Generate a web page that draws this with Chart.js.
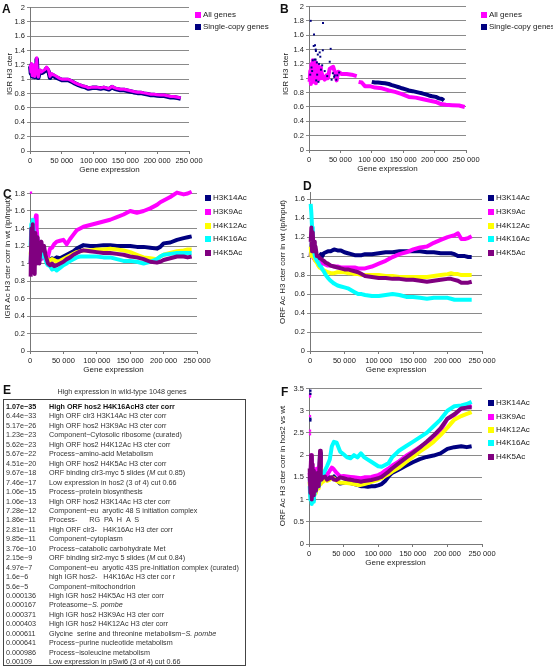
<!DOCTYPE html>
<html>
<head>
<meta charset="utf-8">
<script src="https://cdn.jsdelivr.net/npm/chart.js@4.4.1/dist/chart.umd.min.js"></script>
<style>
  body { margin: 0; background: #fff; font-family: "Liberation Sans", Arial, sans-serif; color: #222; }
  #page { position: relative; width: 553px; height: 668px; overflow: hidden; will-change: transform; -webkit-font-smoothing: antialiased; }
  .panel { position: absolute; }
  .letter { position: absolute; font-weight: bold; font-size: 12px; line-height: 12px; color: #111; }
  .ytitle { position: absolute; font-size: 8px; white-space: nowrap; transform: translate(-50%, -50%) rotate(-90deg); }
  .sw { position: absolute; width: 6px; height: 6px; }
  .lt { position: absolute; font-size: 8px; line-height: 10px; white-space: nowrap; }
  .row { position: absolute; left: 0; height: 9.45px; line-height: 9.45px; font-size: 7.2px; white-space: nowrap; color: #333; }
  .row .p { position: absolute; left: 2px; }
  .row .t { position: absolute; left: 45px; }
</style>
</head>
<body>
<div id="page"></div>
<script>
// ---- Panel A: IGR H3 cter, all genes vs single-copy genes
const aX = [500, 1500, 2500, 3500, 4500, 5500, 6500, 7500, 8500, 9500,
  10500, 11500, 13000, 14500, 16000, 18000, 21000, 24000, 26000, 28000,
  29500, 31500, 34000, 37000, 40000, 45000, 50000, 55000, 60000, 65000,
  71000, 76000, 82000, 87000, 92000, 98000, 105000, 111000, 116000, 120000,
  124000, 129000, 133000, 137000, 142000, 148000, 153000, 158000, 163000, 169000,
  174000, 179000, 185000, 190000, 195000, 200000, 205000, 211000, 216000, 221000,
  226000, 232000, 237000]
const aAll = [1.2, 1.1, 1.22, 1.05, 1.18, 1.08, 1.2, 1.04, 1.15, 1.22,
  1.3, 1.12, 1.03, 1.1, 1.13, 1.1, 1.12, 1.14, 1.17, 1.15,
  1.12, 1.04, 1.08, 1.06, 1.05, 1.02, 1.0, 1.0, 1.0, 0.98,
  0.95, 0.93, 0.91, 0.9, 0.88, 0.89, 0.89, 0.88, 0.89, 0.88,
  0.87, 0.9, 0.88, 0.87, 0.86, 0.86, 0.85, 0.84, 0.83, 0.82,
  0.82, 0.81, 0.8, 0.79, 0.79, 0.785, 0.78, 0.78, 0.77, 0.76,
  0.76, 0.75, 0.74]
const aSingle = [1.18, 1.08, 1.2, 1.04, 1.16, 1.06, 1.18, 1.03, 1.13, 1.2,
  1.28, 1.1, 1.02, 1.08, 1.11, 1.09, 1.1, 1.12, 1.15, 1.13,
  1.1, 1.02, 1.06, 1.05, 1.03, 1.01, 0.99, 0.99, 0.99, 0.97,
  0.94, 0.92, 0.9, 0.89, 0.87, 0.88, 0.88, 0.87, 0.88, 0.87,
  0.86, 0.89, 0.87, 0.86, 0.85, 0.85, 0.84, 0.83, 0.82, 0.81,
  0.81, 0.8, 0.79, 0.78, 0.78, 0.775, 0.77, 0.77, 0.76, 0.75,
  0.75, 0.74, 0.73]

// ---- Panel B: IGR H3 cter (other set)
const bAllX = [1000, 2000, 3000, 4000, 5000, 6000, 7000, 8000, 9000, 10000,
  11000, 12000, 13000, 14000, 15000, 16000, 17000, 18000, 19000, 20000,
  22000, 25000, 28000, 30000, 33000, 36000, 38500, 41000, 44000, 46500,
  52000, 60000, 68000, 76000, 77500, 79000, 84000, 89000, 97000, 105000,
  116000, 127000, 137000, 148000, 159000, 170000, 180000, 191000, 202000, 210000,
  218000, 228000, 239000, 248000]
const bAll = [0.95, 1.1, 0.92, 1.2, 1.0, 1.25, 0.95, 1.15, 1.05, 1.22,
  0.93, 1.12, 1.0, 1.18, 0.98, 1.1, 1.05, 1.15, 1.0, 1.08,
  1.02, 0.98, 1.04, 1.0, 1.13, 1.15, 1.16, 1.09, 0.97, 1.09,
  1.06, 1.06, 1.05, 1.03, null, 0.95, 0.94, 0.89, 0.89, 0.87,
  0.86, 0.83, 0.81, 0.78, 0.74, 0.73, 0.71, 0.69, 0.67, 0.64,
  0.63, 0.625, 0.62, 0.6]
const bSingleDotX = [2700, 22300, 8000, 7500, 9600, 10700, 11000, 14000, 17000, 22000,
  34500, 10500, 9000, 6000, 12500, 16000, 21000, 33000, 19000, 13000,
  25000, 38000, 41000, 45000, 48000, 4000, 2000, 15000, 11500, 29000,
  36000, 40000, 43500, 18000, 5000]
const bSingleDot = [1.8, 1.77, 1.61, 1.45, 1.46, 1.4, 1.38, 1.33, 1.36, 1.39,
  1.41, 1.26, 1.26, 1.25, 1.22, 1.2, 1.18, 1.23, 1.12, 1.05,
  1.1, 1.07, 1.04, 1.04, 1.08, 1.15, 1.05, 0.95, 0.97, 1.03,
  0.98, 1.02, 0.98, 1.3, 1.1]
const bSingleX = [100000, 105000, 110000, 116000, 121000, 127000, 132000, 137500, 143000, 148000,
  154000, 159000, 165000, 170000, 175000, 180000, 186000, 191000, 196000, 202000,
  207000, 212000, 215000]
const bSingle = [0.95, 0.94, 0.94, 0.935, 0.93, 0.92, 0.905, 0.89, 0.875, 0.86,
  0.845, 0.83, 0.82, 0.81, 0.8, 0.79, 0.775, 0.76, 0.75, 0.74,
  0.72, 0.71, 0.69]

// ---- Panel C: IGR Ac H3 cter corr in wt
const cX = [1000, 2000, 3000, 4000, 5000, 6000, 7000, 8000, 9000, 10000,
  11000, 12000, 13000, 14000, 15000, 17000, 19000, 21000, 23000, 25000,
  27000, 30000, 33000, 36000, 40000, 45000, 50000, 55000, 60000, 65000,
  70000, 75000, 80000, 90000, 100000, 110000, 120000, 130000, 140000, 150000,
  160000, 170000, 180000, 190000, 195000, 200000, 210000, 220000, 230000, 236000,
  242000]
const cK14 = [1.0, 1.3, 1.1, 1.4, 1.0, 1.25, 1.15, 1.35, 1.05, 1.2,
  1.3, 1.1, 1.15, 1.25, 1.1, 1.2, 1.12, 1.15, 1.1, 1.08,
  1.05, 1.04, 1.06, 1.05, 1.07, 1.06, 1.08, 1.1, 1.12, 1.14,
  1.17, 1.19, 1.21, 1.2, 1.2, 1.21, 1.21, 1.2, 1.2, 1.2,
  1.19, 1.19, 1.18, 1.17, 1.19, 1.23, 1.24, 1.27, 1.29, 1.3,
  1.31]
const cK9 = [1.0, 1.05, 0.98, 1.1, 1.05, 1.15, 1.3, 1.5, 1.55, 1.4,
  1.3, 1.22, 1.15, 1.25, 1.1, 1.05, 1.1, 1.15, 1.05, 1.1,
  1.08, 1.17, 1.18, 1.22, 1.25, 1.26, 1.27, 1.22, 1.28, 1.33,
  1.38, 1.4, 1.42, 1.44, 1.46, 1.48, 1.5, 1.53, 1.56, 1.6,
  1.58, 1.6, 1.63, 1.67, 1.7, 1.72, 1.76, 1.81, 1.79, 1.8,
  1.82]
const cK12 = [1.1, 1.2, 1.0, 1.3, 1.1, 1.2, 1.05, 1.25, 1.1, 1.15,
  1.2, 1.1, 1.15, 1.12, 1.1, 1.15, 1.1, 1.12, 1.08, 1.06,
  1.04, 1.03, 1.05, 1.04, 1.02, 1.03, 1.05, 1.07, 1.09, 1.11,
  1.13, 1.14, 1.15, 1.15, 1.16, 1.16, 1.17, 1.16, 1.15, 1.13,
  1.1, 1.07, 1.06, 1.05, 1.08, 1.1, 1.12, 1.14, 1.15, 1.16,
  1.16]
const cK16 = [1.2, 1.45, 1.3, 1.5, 1.4, 1.35, 1.2, 1.3, 1.1, 1.25,
  1.15, 1.2, 1.1, 1.15, 1.05, 1.12, 1.08, 1.1, 1.05, 1.0,
  0.98, 0.97, 0.93, 0.95, 0.92, 0.95, 0.98, 1.0, 1.03, 1.05,
  1.07, 1.08, 1.08, 1.08, 1.08, 1.07, 1.07, 1.05, 1.03, 1.03,
  1.02, 1.0, 1.02, 1.05, 1.08, 1.1, 1.11, 1.12, 1.12, 1.12,
  1.12]
const cK5 = [0.85, 1.4, 0.9, 1.45, 1.0, 1.3, 0.88, 1.35, 1.0, 1.25,
  1.3, 1.05, 1.2, 1.0, 1.1, 1.25, 1.15, 1.2, 1.1, 1.05,
  1.0, 0.98, 1.0, 0.97, 0.98, 1.0, 1.02, 1.05, 1.07, 1.1,
  1.12, 1.14, 1.15, 1.14, 1.13, 1.12, 1.12, 1.11, 1.1, 1.08,
  1.07, 1.05, 1.02, 1.01, 1.02, 1.04, 1.06, 1.08, 1.08, 1.07,
  1.08]
const cK9DotX = [1500]
const cK9Dot = [1.81]

// ---- Panel D: ORF Ac H3 cter corr in wt
const dX = [1000, 2000, 3000, 4000, 5000, 6000, 7000, 8000, 10000, 12000,
  14000, 16000, 18000, 20000, 23000, 26000, 30000, 35000, 40000, 45000,
  50000, 55000, 60000, 65000, 70000, 75000, 80000, 90000, 100000, 110000,
  120000, 130000, 140000, 150000, 160000, 170000, 180000, 190000, 200000, 205000,
  210000, 215000, 220000, 225000, 230000, 235000]
const dK14 = [1.0, 1.1, 1.2, 1.05, 1.0, 0.98, 1.0, 0.98, 0.97, 1.0,
  1.0, 1.02, 1.0, 1.03, 1.04, 1.05, 1.05, 1.07, 1.06, 1.06,
  1.04, 1.03, 1.02, 1.01, 1.01, 1.01, 1.02, 1.02, 1.03, 1.04,
  1.04, 1.05, 1.05, 1.05, 1.05, 1.04, 1.04, 1.03, 1.03, 1.03,
  1.02, 1.0, 1.0, 1.0, 0.99, 0.99]
const dK9 = [1.0, 1.02, 1.05, 1.0, 0.98, 0.97, 0.96, 0.95, 0.95, 0.94,
  0.93, 0.93, 0.92, 0.92, 0.91, 0.9, 0.9, 0.89, 0.89, 0.88,
  0.88, 0.88, 0.88, 0.88, 0.87, 0.87, 0.87, 0.89, 0.92, 0.95,
  0.99, 1.02, 1.04, 1.07, 1.09, 1.1, 1.14, 1.17, 1.2, 1.21,
  1.22, 1.24, 1.18, 1.18, 1.19, 1.21]
const dK12 = [1.1, 1.0, 1.15, 1.05, 1.0, 0.98, 0.96, 0.95, 0.93, 0.9,
  0.88, 0.87, 0.86, 0.85, 0.84, 0.83, 0.82, 0.82, 0.83, 0.83,
  0.83, 0.82, 0.82, 0.81, 0.81, 0.8, 0.8, 0.8, 0.8, 0.79,
  0.79, 0.78, 0.78, 0.78, 0.78, 0.78, 0.79, 0.8, 0.81, 0.82,
  0.81, 0.81, 0.8, 0.8, 0.8, 0.8]
const dK16 = [1.55, 1.45, 1.3, 1.2, 1.1, 1.05, 1.0, 0.98, 0.95, 0.93,
  0.9, 0.89, 0.86, 0.84, 0.8, 0.77, 0.74, 0.71, 0.69, 0.68,
  0.67, 0.66, 0.64, 0.62, 0.6, 0.6, 0.59, 0.58, 0.58, 0.59,
  0.6, 0.59, 0.57, 0.57, 0.56, 0.55, 0.56, 0.56, 0.56, 0.55,
  0.54, 0.54, 0.54, 0.54, 0.54, 0.54]
const dK5 = [1.15, 1.3, 1.05, 1.25, 1.1, 1.15, 1.05, 1.1, 1.0, 1.0,
  0.98, 0.97, 0.96, 0.95, 0.93, 0.92, 0.9, 0.89, 0.88, 0.87,
  0.86, 0.86, 0.85, 0.84, 0.83, 0.81, 0.79, 0.78, 0.77, 0.77,
  0.76, 0.76, 0.75, 0.75, 0.74, 0.73, 0.74, 0.75, 0.76, 0.76,
  0.75, 0.74, 0.72, 0.72, 0.72, 0.73]

// ---- Panel F: ORF Ac H3 cter corr in hos2 vs wt
const fX = [1000, 2000, 3000, 4000, 5000, 6000, 7000, 8000, 9000, 10000,
  12000, 14000, 16000, 17000, 18000, 20000, 23000, 26000, 30000, 33000,
  36000, 40000, 45000, 50000, 55000, 60000, 65000, 70000, 75000, 80000,
  85000, 90000, 95000, 100000, 105000, 110000, 115000, 120000, 130000, 140000,
  150000, 160000, 170000, 180000, 190000, 200000, 210000, 220000, 228000, 235000]
const fK14 = [1.5, 1.1, 1.9, 1.2, 1.7, 1.0, 1.6, 1.3, 1.5, 1.2,
  1.6, 1.3, 2.05, 1.4, 1.45, 1.45, 1.5, 1.44, 1.5, 1.48,
  1.52, 1.45, 1.36, 1.38, 1.4, 1.37, 1.35, 1.33, 1.3, 1.3,
  1.29, 1.3, 1.3, 1.32, 1.35, 1.42, 1.52, 1.6, 1.68, 1.76,
  1.84, 1.91, 1.96, 1.99, 2.04, 2.14, 2.18, 2.2, 2.18, 2.2]
const fK9 = [1.6, 1.2, 2.0, 1.3, 1.8, 1.1, 1.7, 1.4, 1.6, 1.3,
  1.7, 1.4, 1.9, 1.5, 1.5, 1.55, 1.6, 1.55, 1.65, 1.72,
  1.68, 1.6, 1.52, 1.53, 1.52, 1.51, 1.5, 1.49, 1.48, 1.5,
  1.5, 1.51, 1.53, 1.55, 1.59, 1.65, 1.7, 1.76, 1.86, 1.98,
  2.08, 2.18, 2.28, 2.41, 2.55, 2.82, 2.9, 3.05, 3.08, 3.12]
const fK12 = [1.4, 1.1, 1.8, 1.2, 1.6, 1.05, 1.5, 1.2, 1.4, 1.15,
  1.5, 1.25, 1.7, 1.35, 1.38, 1.4, 1.45, 1.42, 1.45, 1.5,
  1.48, 1.42, 1.38, 1.38, 1.37, 1.36, 1.35, 1.33, 1.33, 1.35,
  1.37, 1.4, 1.42, 1.45, 1.48, 1.53, 1.57, 1.63, 1.72, 1.84,
  1.96, 2.08, 2.18, 2.3, 2.45, 2.62, 2.8, 2.88, 2.93, 2.97]
const fK16 = [1.3, 1.0, 1.6, 0.9, 1.3, 0.95, 1.2, 1.1, 1.3, 1.2,
  1.35, 1.3, 1.5, 1.45, 1.5, 1.55, 1.65, 1.75, 1.9, 2.2,
  2.3, 2.28, 2.08, 2.02, 1.95, 1.93, 2.0, 1.95, 2.04, 1.95,
  1.9, 1.85, 1.8, 1.75, 1.74, 1.78, 1.82, 1.95, 2.1, 2.2,
  2.3, 2.4, 2.5, 2.65, 2.8, 3.0, 3.1, 3.12, 3.15, 3.2]
const fK5 = [1.7, 1.15, 2.0, 1.0, 1.8, 1.1, 1.65, 1.25, 1.55, 1.2,
  1.6, 1.3, 2.1, 1.5, 1.45, 1.5, 1.52, 1.45, 1.48, 1.5,
  1.45, 1.44, 1.5, 1.48, 1.46, 1.45, 1.43, 1.42, 1.4, 1.42,
  1.43, 1.44, 1.46, 1.48, 1.51, 1.57, 1.63, 1.7, 1.82, 1.94,
  2.05, 2.17, 2.3, 2.44, 2.6, 2.82, 2.92, 3.05, 3.07, 3.08]
const fK14DotX = [2000, 2000, 2000, 2000]
const fK14Dot = [3.45, 3.38, 2.82, 2.78]
const fK9DotX = [1500, 1500, 1500, 1500, 1500]
const fK9Dot = [3.36, 3.32, 2.88, 2.55, 2.47]

// ---- Panel E: enrichment table
const eTitle = 'High expression in wild-type 1048 genes'
const ePValues = ['1.07e\u221235', '6.44e\u221233', '5.17e\u221226', '1.23e\u221223', '5.62e\u221223',
  '5.67e\u221222', '4.51e\u221220', '9.67e\u221218', '7.46e\u221217', '1.06e\u221215',
  '1.06e\u221213', '7.28e\u221212', '1.86e\u221211', '2.81e\u221211', '9.85e\u221211',
  '3.76e\u221210', '2.15e\u22129', '4.97e\u22127', '1.6e\u22126', '5.6e\u22125',
  '0.000136', '0.000167', '0.000371', '0.000403', '0.000611', '0.000641', '0.000986', '0.00109']
const eTerms = ['High ORF hos2 H4K16AcH3 cter corr',
  'High ORF clr3 H3K14Ac H3 cter corr',
  'High ORF hos2 H3K9Ac H3 cter corr',
  'Component\u2212Cytosolic ribosome (curated)',
  'High ORF hos2 H4K12Ac H3 cter corr',
  'Process\u2212amino-acid Metabolism',
  'High ORF hos2 H4K5Ac H3 cter corr',
  'ORF binding clr3-myc 5 slides (M cut 0.85)',
  'Low expression in hos2 (3 of 4) cut 0.66',
  'Process\u2212protein biosynthesis',
  'High ORF hos2 H3K14Ac H3 cter corr',
  'Component\u2212eu  aryotic 48 S initiation complex',
  'Process-      RG  PA  H  A  S',
  'High ORF clr3-   H4K16Ac H3 cter corr',
  'Component\u2212cytoplasm',
  'Process\u2212catabolic carbohydrate Met',
  'ORF binding sir2-myc 5 slides (M cut 0.84)',
  'Component\u2212eu  aryotic 43S pre-initiation complex (curated)',
  'high IGR hos2-   H4K16Ac H3 cter cor r',
  'Component\u2212mitochondrion',
  'High IGR hos2 H4K5Ac H3 cter corr',
  'Proteasome\u2212S. pombe',
  'High IGR hos2 H3K9Ac H3 cter corr',
  'High IGR hos2 H4K12Ac H3 cter corr',
  'Glycine  serine and threonine metabolism\u2212S. pombe',
  'Process\u2212purine nucleotide metabolism',
  'Process\u2212isoleucine metabolism',
  'Low expression in pSwi6 (3 of 4) cut 0.66']

const acLabels = ['H3K14Ac', 'H3K9Ac', 'H4K12Ac', 'H4K16Ac', 'H4K5Ac']
const NAVY = '#000080', MAGENTA = '#ff00ff', YELLOW = '#ffff00', CYAN = '#00ffff', PURPLE = '#800080'
const acColors = [NAVY, MAGENTA, YELLOW, CYAN, PURPLE]

const GRID = '#8a8a8a'
const AXIS = '#777'
const FONT = 'Liberation Sans'

const page = document.getElementById('page')

function pts(xs, ys) {
  return xs.map((x, i) => ({ x: x, y: ys[i] }))
}

function line(xs, ys, color, width, order) {
  return {
    data: pts(xs, ys), showLine: true, borderColor: color, backgroundColor: color,
    borderWidth: width, pointRadius: 0, borderJoinStyle: 'round', order: order, clip: 4
  }
}

function dots(xs, ys, color, r) {
  return {
    data: pts(xs, ys), showLine: false, pointStyle: 'rect', pointRadius: r,
    backgroundColor: color, borderColor: color, borderWidth: 0, order: 0, clip: false
  }
}

function el(cls, css, html) {
  const d = document.createElement('div')
  d.className = cls
  Object.assign(d.style, css)
  if (html !== undefined) d.innerHTML = html
  page.appendChild(d)
  return d
}

// one chart panel; p = {left, top, width, height, padTop, yWidth, xHeight, yMax, yStep}
function panel(p, datasets) {
  const box = el('panel', { left: p.left + 'px', top: p.top + 'px' })
  const canvas = document.createElement('canvas')
  canvas.width = p.width
  canvas.height = p.height
  box.appendChild(canvas)

  return new Chart(canvas.getContext('2d'), {
    type: 'scatter',
    data: { datasets: datasets },
    options: {
      responsive: false,
      animation: false,
      events: [],
      layout: { padding: { top: p.padTop, right: 16, bottom: 0, left: 0 } },
      plugins: { legend: { display: false }, tooltip: { enabled: false } },
      scales: {
        x: {
          type: 'linear', min: 0, max: 250000,
          ticks: {
            stepSize: 50000, maxRotation: 0, minRotation: 0, autoSkip: false, padding: 2,
            color: '#222', font: { family: FONT, size: 7.5 },
            callback: v => v === 0 ? '0' : (v / 1000) + ' 000'
          },
          grid: { drawOnChartArea: false, tickLength: 3, color: AXIS },
          border: { color: AXIS },
          title: {
            display: true, text: 'Gene expression', color: '#222',
            font: { family: FONT, size: 8 }, padding: { top: 0, bottom: 0 }
          },
          afterFit: s => { s.height = p.xHeight }
        },
        y: {
          min: 0, max: p.yMax,
          ticks: {
            stepSize: p.yStep, includeBounds: false, padding: 2, color: '#222',
            font: { family: FONT, size: 7.5 },
            callback: v => String(Math.round(v * 10) / 10)
          },
          grid: { color: GRID, tickLength: 3 },
          border: { color: AXIS },
          afterFit: s => { s.width = p.yWidth }
        }
      }
    }
  })
}

function legend(x, ys, labels, colors) {
  labels.forEach((lab, i) => {
    el('sw', { left: x + 'px', top: (ys[i] - 3) + 'px', background: colors[i] })
    el('lt', { left: (x + 8) + 'px', top: (ys[i] - 5) + 'px' }, lab)
  })
}

function yTitle(cx, cy, text) {
  el('ytitle', { left: cx + 'px', top: cy + 'px' }, text)
}

function letter(x, y, t) {
  el('letter', { left: x + 'px', top: y + 'px' }, t)
}

// A
panel({ left: 0, top: 1, width: 205, height: 174, padTop: 6, yWidth: 30, xHeight: 24, yMax: 2, yStep: 0.2 }, [
  line(aX, aAll, MAGENTA, 3, 1),
  line(aX, aSingle, NAVY, 4.5, 2)
])
legend(195, [15, 27], ['All genes', 'Single-copy genes'], [MAGENTA, NAVY])
yTitle(9, 74, 'IGR H3 cter')
letter(2, 3, 'A')

// B
panel({ left: 276, top: 0, width: 206, height: 174, padTop: 6, yWidth: 33, xHeight: 24, yMax: 2, yStep: 0.2 }, [
  line(bAllX, bAll, MAGENTA, 4, 1),
  line(bSingleX, bSingle, NAVY, 4, 2),
  dots(bSingleDotX, bSingleDot, NAVY, 1.4)
])
legend(481, [15, 27], ['All genes', 'Single-copy genes'], [MAGENTA, NAVY])
yTitle(285, 74, 'IGR H3 cter')
letter(280, 3, 'B')

// C
const cSeries = [cK14, cK9, cK12, cK16, cK5]
panel({ left: 0, top: 187, width: 213, height: 188, padTop: 6, yWidth: 30, xHeight: 24, yMax: 1.8, yStep: 0.2 },
  cSeries.map((s, i) => line(cX, s, acColors[i], 4, 5 - i)).concat([dots(cK9DotX, cK9Dot, MAGENTA, 1.6)]))
legend(205, [198, 212, 226, 239, 253], acLabels, acColors)
yTitle(7, 258, 'IGR Ac H3 cter corr in wt (ip/input)')
letter(3, 188, 'C')

// D
const dSeries = [dK14, dK9, dK12, dK16, dK5]
panel({ left: 280, top: 186, width: 218, height: 189, padTop: 6, yWidth: 30, xHeight: 24, yMax: 1.67, yStep: 0.2 },
  dSeries.map((s, i) => line(dX, s, acColors[i], 4, 5 - i)))
legend(488, [198, 212, 226, 239, 253], acLabels, acColors)
yTitle(282, 262, 'ORF Ac H3 cter corr in wt (ip/input)')
letter(303, 180, 'D')

// F
const fSeries = [fK14, fK9, fK12, fK16, fK5]
panel({ left: 279, top: 382, width: 219, height: 186, padTop: 6, yWidth: 30, xHeight: 24, yMax: 3.5, yStep: 0.5 },
  fSeries.map((s, i) => line(fX, s, acColors[i], 4, 5 - i)).concat([
    dots(fK14DotX, fK14Dot, NAVY, 1.6), dots(fK9DotX, fK9Dot, MAGENTA, 1.6)]))
legend(488, [403, 417, 430, 443, 457], acLabels, acColors)
yTitle(282, 466, 'ORF Ac H3 cter corr in hos2 vs wt')
letter(281, 386, 'F')

// E: table
letter(3, 384, 'E')
el('', { position: 'absolute', left: '0px', width: '244px', top: '387px', textAlign: 'center', fontSize: '7.2px', color: '#333' }, eTitle)
const tbl = el('', { position: 'absolute', left: '3px', top: '399px', width: '241px', height: '265px', border: '1px solid #444' })
ePValues.forEach((pv, i) => {
  const term = eTerms[i]
    .replace('S. pombe', '<i>S. pombe</i>')
    .replace('(M cut', '(<i>M</i> cut')
  const row = document.createElement('div')
  row.className = 'row'
  row.style.top = (2 + i * 9.45) + 'px'
  if (i === 0) { row.style.fontWeight = 'bold'; row.style.color = '#111' }
  row.innerHTML = '<span class="p">' + pv + '</span><span class="t">' + term.replace(/  /g, ' &nbsp;') + '</span>'
  tbl.appendChild(row)
})
</script>
</body>
</html>
